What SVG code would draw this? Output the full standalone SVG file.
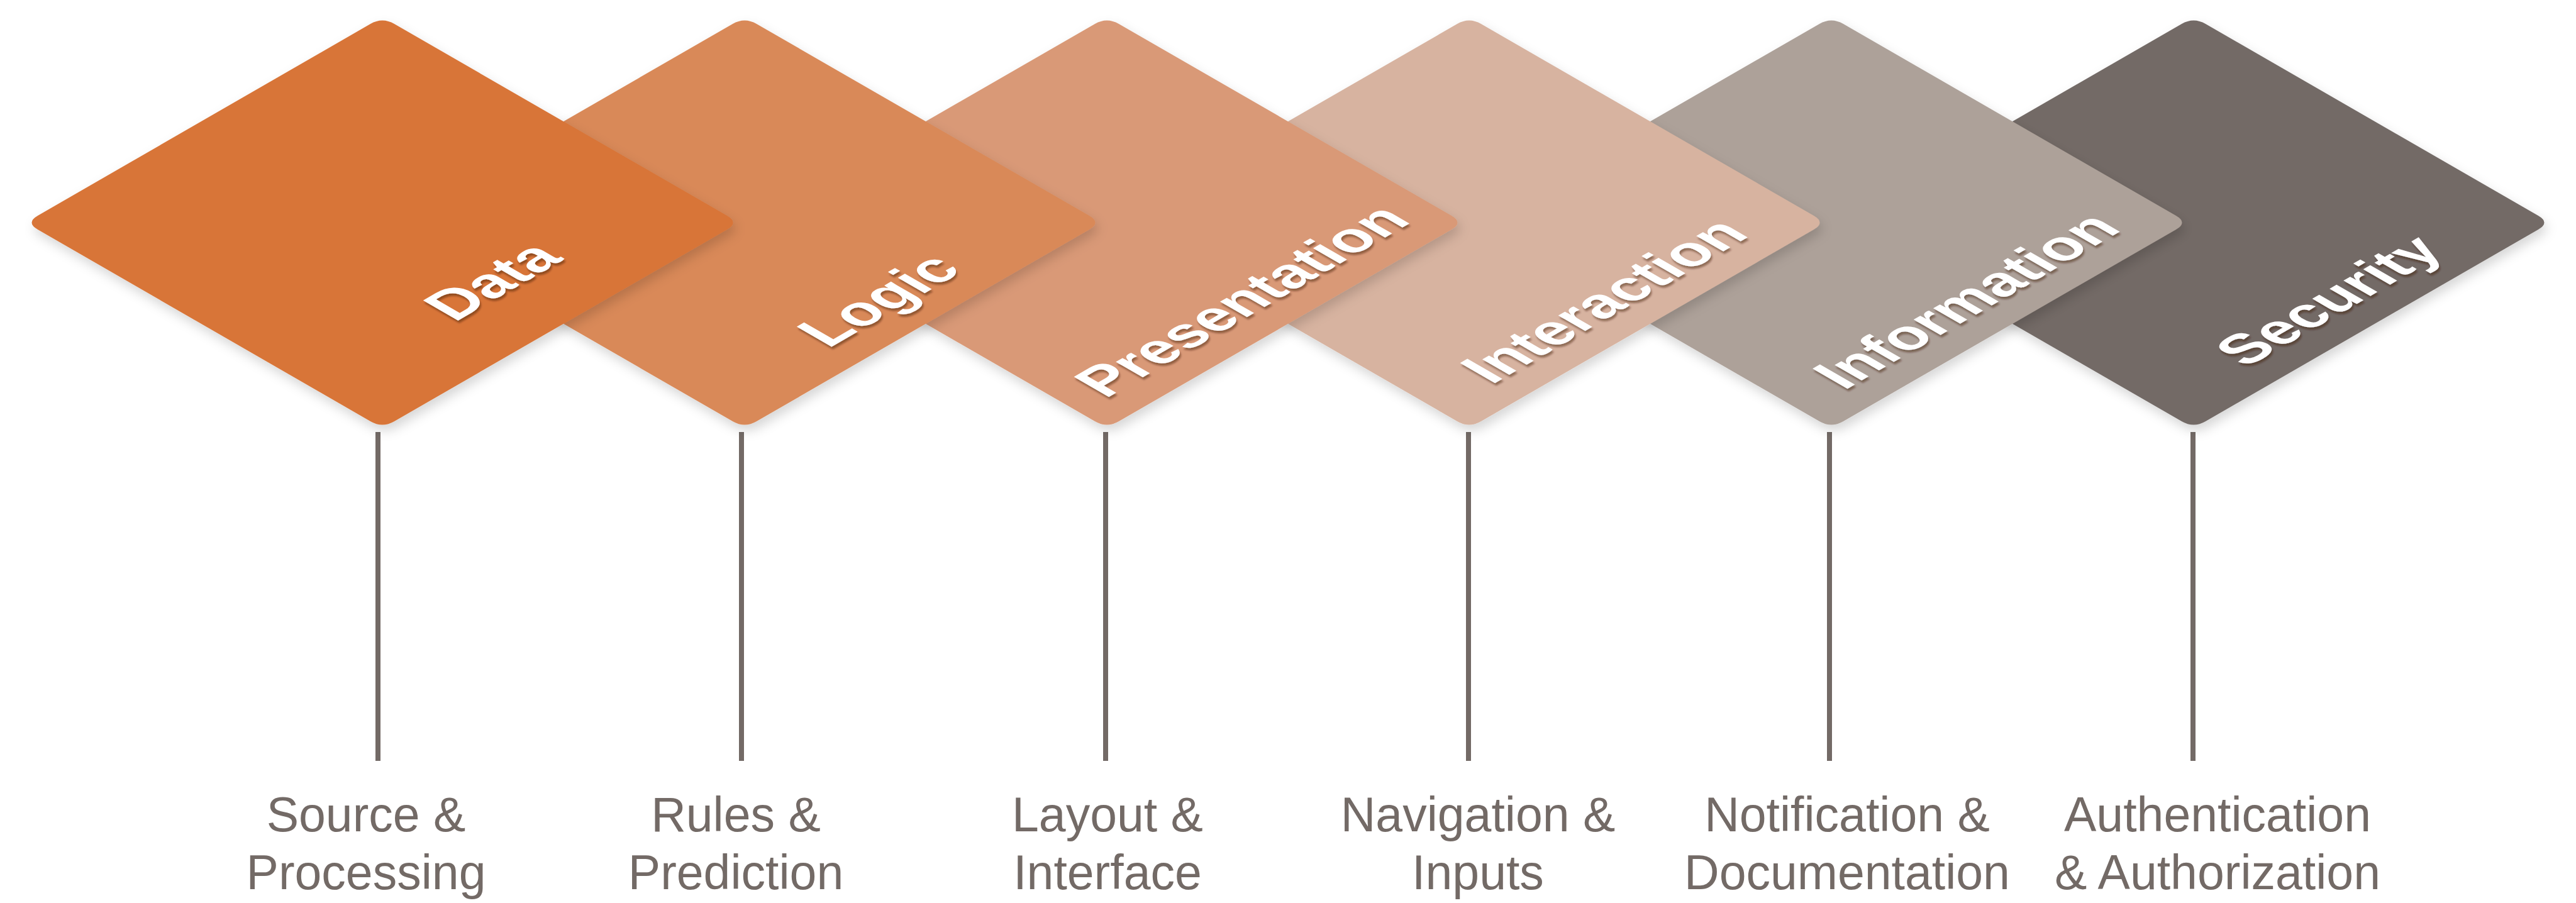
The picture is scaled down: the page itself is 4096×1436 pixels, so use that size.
<svg xmlns="http://www.w3.org/2000/svg" xmlns:xlink="http://www.w3.org/1999/xlink" width="4096" height="1436" viewBox="0 0 4096 1436">
  <defs>
    <path id="dia" d="M -19,-316 Q 0,-327 19,-316 L 548,-11 Q 567,0 548,11 L 19,316 Q 0,327 -19,316 L -548,11 Q -567,0 -548,-11 Z"/>
    <filter id="ds" x="-10%" y="-10%" width="125%" height="130%">
      <feDropShadow dx="4" dy="9" stdDeviation="9" flood-color="#000" flood-opacity="0.16"/>
    </filter>
    <filter id="ts" x="-10%" y="-20%" width="125%" height="145%">
      <feDropShadow dx="2" dy="4" stdDeviation="1.5" flood-color="#3a1e10" flood-opacity="0.45"/>
    </filter>
  </defs>
  <style>
    .lbl { font-family: "Liberation Sans", Arial, sans-serif; font-weight: bold; font-size: 114px; fill: #ffffff; text-anchor: middle; }
    .cap { font-family: "Liberation Sans", Arial, sans-serif; font-size: 77px; fill: #736a66; text-anchor: middle; }
    .conn line { stroke: #736a66; stroke-width: 8; }
  </style>
  <rect width="4096" height="1436" fill="#ffffff"/>

  <g id="connectors" class="conn">
    <line x1="601" y1="687" x2="601" y2="1210"/>
    <line x1="1179" y1="687" x2="1179" y2="1210"/>
    <line x1="1758" y1="687" x2="1758" y2="1210"/>
    <line x1="2335" y1="687" x2="2335" y2="1210"/>
    <line x1="2909" y1="687" x2="2909" y2="1210"/>
    <line x1="3487" y1="687" x2="3487" y2="1210"/>
  </g>

  <g id="node-security">
    <use xlink:href="#dia" href="#dia" transform="translate(3488,354)" fill="#736a66" filter="url(#ds)"/>
    <g filter="url(#ts)"><text class="lbl" transform="translate(3488,354) scale(1,0.5767) rotate(-45)" x="0" y="342">Security</text></g>
    <text class="cap" x="3526" y="1322">Authentication</text>
    <text class="cap" x="3526" y="1414">&amp; Authorization</text>
  </g>

  <g id="node-information">
    <use xlink:href="#dia" href="#dia" transform="translate(2912,354)" fill="#ada199" filter="url(#ds)"/>
    <g filter="url(#ts)"><text class="lbl" transform="translate(2912,354) scale(1,0.5767) rotate(-45)" x="0" y="342">Information</text></g>
    <text class="cap" x="2937" y="1322">Notification &amp;</text>
    <text class="cap" x="2937" y="1414">Documentation</text>
  </g>

  <g id="node-interaction">
    <use xlink:href="#dia" href="#dia" transform="translate(2336,354)" fill="#d7b3a0" filter="url(#ds)"/>
    <g filter="url(#ts)"><text class="lbl" transform="translate(2336,354) scale(1,0.5767) rotate(-45)" x="0" y="342">Interaction</text></g>
    <text class="cap" x="2350" y="1322">Navigation &amp;</text>
    <text class="cap" x="2350" y="1414">Inputs</text>
  </g>

  <g id="node-presentation">
    <use xlink:href="#dia" href="#dia" transform="translate(1760,354)" fill="#d99977" filter="url(#ds)"/>
    <g filter="url(#ts)"><text class="lbl" transform="translate(1760,354) scale(1,0.5767) rotate(-45)" x="0" y="342">Presentation</text></g>
    <text class="cap" x="1761" y="1322">Layout &amp;</text>
    <text class="cap" x="1761" y="1414">Interface</text>
  </g>

  <g id="node-logic">
    <use xlink:href="#dia" href="#dia" transform="translate(1184,354)" fill="#d98959" filter="url(#ds)"/>
    <g filter="url(#ts)"><text class="lbl" transform="translate(1184,354) scale(1,0.5767) rotate(-45)" x="0" y="340">Logic</text></g>
    <text class="cap" x="1170" y="1322">Rules &amp;</text>
    <text class="cap" x="1170" y="1414">Prediction</text>
  </g>

  <g id="node-data">
    <use xlink:href="#dia" href="#dia" transform="translate(608,354)" fill="#d87437" filter="url(#ds)"/>
    <g filter="url(#ts)"><text class="lbl" transform="translate(608,354) scale(1,0.5767) rotate(-45)" x="10" y="276">Data</text></g>
    <text class="cap" x="582" y="1322">Source &amp;</text>
    <text class="cap" x="582" y="1414">Processing</text>
  </g>
</svg>
